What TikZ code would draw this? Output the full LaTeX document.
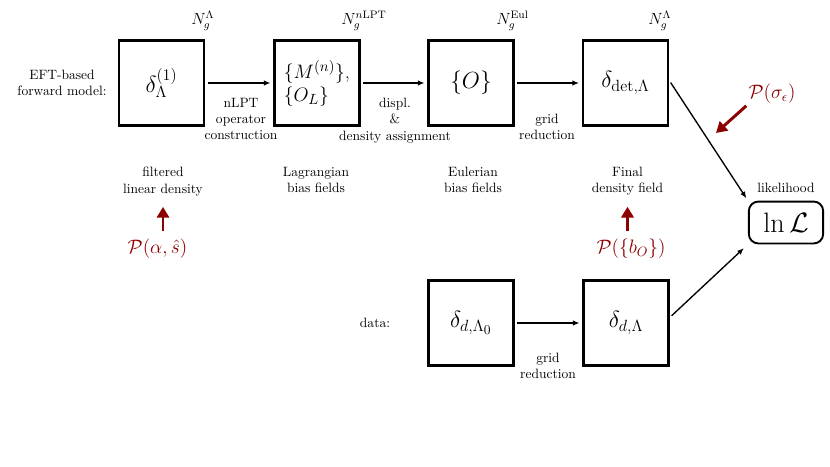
\documentclass[tikz,border=0pt]{standalone}
\usetikzlibrary{arrows.meta}
\definecolor{darkred}{rgb}{0.55,0,0}
\begin{document}
\begin{tikzpicture}[x=0.74pt,y=-0.74pt,
  box/.style={draw,line width=1.6pt,minimum size=63pt,inner sep=0pt,font=\LARGE},
  conn/.style={line width=1pt,-{Latex[length=5pt,width=4pt]},shorten <=2pt,shorten >=2pt},
  lab/.style={align=center,font=\normalsize,inner sep=0pt},
  prior/.style={darkred,line width=2.2pt,-{Triangle[length=8pt,width=9pt]}},
  ptext/.style={text=darkred,font=\Large,inner sep=0pt},
  gridlab/.style={font=\large,inner sep=0pt,anchor=south west}]
\useasboundingbox (0,0) rectangle (830,467);

% boxes
\node[box] (b1) at (161.5,83) {$\delta_\Lambda^{(1)}$};
\node[box,align=left,font=\fontsize{15}{17}\selectfont] (b2) at (317,83) {$\{M^{(n)}\}$,\\$\{O_L\}$};
\node[box,font=\fontsize{16}{19}\selectfont] (b3) at (471,83) {$\{O\}$};
\node[box] (b4) at (625.5,83) {\raisebox{3pt}{$\delta_{\mathrm{det},\Lambda}$}};
\node[box] (b5) at (471,323) {$\delta_{d,\Lambda_0}$};
\node[box] (b6) at (626,323) {$\delta_{d,\Lambda}$};
\node[draw,line width=1.4pt,rounded corners=7pt,minimum width=55pt,minimum height=31pt,inner sep=0pt,font=\huge] (L) at (786,222.5) {$\ln\mathcal{L}$};

% grid sizes
\node[gridlab] (g1) at (191,31) {$N_g^\Lambda$};
\node[gridlab] (g2) at (341,31) {$N_g^{n\mathrm{LPT}}$};
\node[gridlab] (g3) at (496,31) {$N_g^{\mathrm{Eul}}$};
\node[gridlab] (g4) at (648,31) {$N_g^\Lambda$};

% side labels
\node[lab] (eft) at (62,83) {EFT-based\\forward model:};
\node[lab] (data) at (375,323) {data:};

% edge labels
\node[lab,anchor=north] (e1) at (241,98) {nLPT\\operator\\construction};
\node[lab,anchor=north] (e2) at (395,98) {displ.\\\&\\density assignment};
\node[lab,anchor=north] (e3) at (547,114) {grid\\reduction};
\node[lab,anchor=north] (e4) at (548,353) {grid\\reduction};

% descriptions
\node[lab,anchor=north] (d1) at (163,167) {filtered\\linear density};
\node[lab,anchor=north] (d2) at (316,167) {Lagrangian\\bias fields};
\node[lab,anchor=north] (d3) at (473,167) {Eulerian\\bias fields};
\node[lab,anchor=north] (d4) at (627.5,167) {Final\\density field};
\node[lab] (lk) at (786,188) {likelihood};

% priors
\node[ptext] (pa) at (157.5,249) {$\mathcal{P}(\alpha,\hat{s})$};
\node[ptext] (pb) at (631,249) {$\mathcal{P}(\{b_O\})$};
\node[ptext] (ps) at (772,94) {$\mathcal{P}(\sigma_\epsilon)$};
\coordinate (pst) at (716,133);

% connectors
\draw[conn] (b1) -- (b2);
\draw[conn] (b2) -- (b3);
\draw[conn] (b3) -- (b4);
\draw[conn] (b5) -- (b6);
\draw[conn] ([yshift=2pt]b4.east) -- (L.north west);
\draw[conn,shorten >=4pt] ([yshift=4pt]b6.east) -- (L.south west);

\draw[prior,shorten <=6pt,shorten >=8pt] (d1.south |- pa.north) -- (d1.south);
\draw[prior,shorten <=6pt,shorten >=8pt] (d4.south |- pb.north) -- (d4.south);
\draw[prior,shorten <=2pt] (ps.south west) -- (pst);
\end{tikzpicture}
\end{document}
